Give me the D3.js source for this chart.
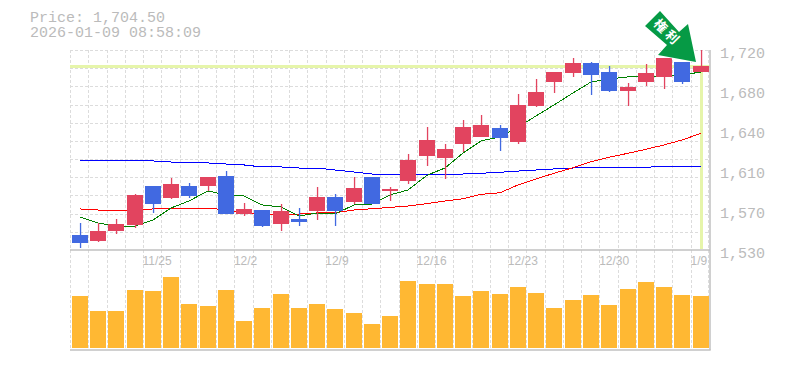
<!DOCTYPE html>
<html>
<head>
<meta charset="utf-8">
<script src="https://d3js.org/d3.v7.min.js"></script>
<style>
  html, body { margin: 0; padding: 0; background: #fff; overflow: hidden; }
  .header { font: 15px "Liberation Mono", monospace; fill: #bbb; }
  .price-axis text { font: 15px "Liberation Mono", monospace; fill: #bbb; }
  .date-axis text { font: 12px "Liberation Sans", sans-serif; fill: #bbb; }
  .arrow-label { font: bold 13px "Noto Sans CJK JP", sans-serif; fill: #fff; }
</style>
</head>
<body>
<div id="chart"></div>
<script>
// Daily candles, 11/18 through 1/9
const dates = ['11/18','11/19','11/20','11/21','11/25','11/26','11/27','11/28','12/1','12/2','12/3','12/4','12/5','12/8','12/9','12/10','12/11','12/12','12/15','12/16','12/17','12/18','12/19','12/22','12/23','12/24','12/25','12/26','12/29','12/30','1/5','1/6','1/7','1/8','1/9'];
const opens = [1544.3,1538.6,1548.1,1553.8,1590.8,1579.4,1590.8,1590.8,1600.3,1564.2,1568,1554.7,1559.5,1567.1,1580.4,1575.6,1599.4,1586.1,1595.6,1619.3,1617.4,1630.7,1637.4,1645.9,1632.6,1666.8,1689.6,1698.2,1707.7,1699.1,1681.1,1689.6,1694.4,1708.6,1699.1];
const highs = [1555.7,1555.7,1559.5,1583.2,1590.8,1598.4,1593.7,1599.4,1605.1,1574.6,1568,1573.7,1569.9,1589.9,1583.2,1599.4,1599.4,1589.9,1621.2,1646.9,1630.7,1653.5,1658.3,1648.8,1678.2,1692.5,1699.1,1712.4,1708.6,1704.8,1688.7,1706.7,1712.4,1708.6,1720];
const lows = [1531.9,1537.6,1545.2,1550.9,1565.2,1578.5,1579.4,1586.1,1564.2,1562.3,1551.9,1548.1,1552.8,1558.5,1552.8,1573.7,1573.7,1576.6,1592.7,1609.8,1597.5,1623.1,1637.4,1624.1,1630.7,1665.9,1679.2,1694.4,1677.3,1680.1,1666.8,1685.8,1683,1687.7,1699.1];
const closes = [1536.7,1548.1,1554.7,1582.3,1573.7,1592.7,1581.3,1599.4,1564.2,1569,1552.8,1567.1,1556.6,1580.4,1567.1,1588.9,1573.7,1588,1615.5,1634.5,1626,1646.9,1648.8,1636.4,1667.8,1680.1,1699.1,1707.7,1696.3,1681.1,1684.9,1698.2,1712.4,1689.6,1704.5];
const volumes = [52,37,37,58,57,71,44,42,58,27,40,54,40,44,39,35,24,32,67,64,64,52,57,54,61,55,40,48,53,43,59,66,61,53,52];

// Moving averages
const maShort = [1561.4,1555.7,1552.8,1552.8,1558.5,1569.9,1576.6,1586.1,1582.3,1581.3,1572.8,1570.9,1562.3,1565.2,1564.2,1572.8,1573.7,1582.3,1587,1601,1607.9,1622.2,1633.6,1637.4,1646.9,1657.3,1667.8,1679.2,1689.6,1692.5,1694.4,1694.4,1695.3,1696.3,1699.1];
const maMid = [1569,1568,1567.1,1567.1,1569,1569.9,1569.9,1569.9,1568,1565.2,1564.2,1563.3,1564.2,1565.2,1565.5,1568,1569.2,1570.5,1571.8,1574,1576.6,1578.7,1582.9,1584.4,1591.8,1597.5,1602.9,1608.2,1613.9,1618.1,1621.9,1625.7,1629.8,1634.5,1640.9];
const maLong = [1615.5,1615.5,1614.6,1614.6,1614.6,1613.6,1612.7,1612.7,1611.7,1610.8,1608.9,1608.9,1607.9,1607.9,1606,1604.1,1602.2,1602.2,1602.2,1602.2,1602.2,1602.2,1602.9,1603.8,1605,1606,1607,1607.9,1608.6,1608.6,1608.6,1608.6,1609.5,1609.5,1609.5];

const dateTicks = ['11/25','12/2','12/9','12/16','12/23','12/30','1/9'];
const priceTicks = [1720,1682,1644,1606,1568,1530];
const currentPrice = 1704.5;
const headerLines = ['Price: 1,704.50','2026-01-09 08:58:09'];

const width = 785;
const height = 370;

const svg = d3.select('#chart').append('svg')
  .attr('width', width)
  .attr('height', height)
  .style('display', 'block');

const xScale = d3.scaleBand().domain(dates).range([70, 709]);
const yScale = d3.scaleLinear().domain([1530, 1720]).range([250, 50]);
const volScale = d3.scaleLinear().domain([0, 98]).range([348, 250]);

// left edge of a 16px body, snapped to whole pixels
const barLeft = d => Math.round(xScale(d) + 1.8);
const barMid = d => barLeft(d) + 8;

// Grid
const grid = svg.append('g')
  .attr('stroke', '#dcdcdc')
  .attr('stroke-dasharray', '3,2');
d3.range(1, 11).concat([0]).forEach(k => {
  const y = Math.round(50 + k * 200 / 11) + 0.5;
  grid.append('line').attr('x1', 70).attr('x2', 710).attr('y1', y).attr('y2', y);
});
dates.concat(['end']).forEach((d, i) => {
  const x = Math.round(i < dates.length ? xScale(d) : xScale.range()[1] - 1) + 0.5;
  grid.append('line').attr('x1', x).attr('x2', x).attr('y1', 50).attr('y2', 350);
});

// Current price cross
const crossColor = '#e6f5aa';
svg.append('rect')
  .attr('x', 70).attr('width', 640)
  .attr('y', Math.round(yScale(currentPrice)) - 1).attr('height', 3)
  .attr('fill', crossColor);
svg.append('rect')
  .attr('x', barMid('1/9') - 1).attr('width', 3)
  .attr('y', yScale(currentPrice)).attr('height', yScale(1530) - yScale(currentPrice) - 1)
  .attr('fill', crossColor);

// Frame
const frame = svg.append('g').attr('stroke', '#c0c0c0').attr('stroke-width', 1.5);
frame.append('line').attr('x1', 70).attr('x2', 710).attr('y1', 250).attr('y2', 250);
frame.append('line').attr('x1', 70).attr('x2', 710.7).attr('y1', 350).attr('y2', 350);
frame.append('line').attr('x1', 710).attr('x2', 710).attr('y1', 50).attr('y2', 350);

// Moving averages
const maLine = d3.line()
  .x((v, i) => barMid(dates[i]))
  .y(v => yScale(v));
[[maLong, '#0000ff'], [maMid, '#ff0000'], [maShort, '#008000']].forEach(([values, color]) => {
  svg.append('path')
    .attr('d', maLine(values))
    .attr('fill', 'none')
    .attr('stroke', color)
    .attr('stroke-width', 1)
    .attr('shape-rendering', 'crispEdges');
});

// Candles
const upColor = '#e2445f';
const downColor = '#4169e1';
dates.forEach((d, i) => {
  const color = closes[i] >= opens[i] ? upColor : downColor;
  const top = Math.round(yScale(Math.max(opens[i], closes[i])));
  const bottom = Math.round(yScale(Math.min(opens[i], closes[i])));
  svg.append('rect')
    .attr('x', barMid(d) - 0.1)
    .attr('width', 1.3)
    .attr('y', Math.round(yScale(highs[i])))
    .attr('height', Math.round(yScale(lows[i])) - Math.round(yScale(highs[i])))
    .attr('fill', color);
  svg.append('rect')
    .attr('x', barLeft(d))
    .attr('width', 16)
    .attr('y', top)
    .attr('height', Math.max(1, bottom - top))
    .attr('fill', color);
});

// Volume
svg.append('g').selectAll('rect')
  .data(volumes)
  .join('rect')
  .attr('x', (v, i) => barLeft(dates[i]))
  .attr('width', 16)
  .attr('y', v => volScale(v))
  .attr('height', v => volScale(0) - volScale(v))
  .attr('fill', '#ffb833');

// Axes
const priceAxis = d3.axisRight(yScale)
  .tickValues(priceTicks)
  .tickSize(0)
  .tickFormat(v => d3.format(',')(Math.round(v / 10) * 10));
const priceG = svg.append('g')
  .attr('class', 'price-axis')
  .attr('transform', 'translate(720, 0)')
  .call(priceAxis);
priceG.select('.domain').remove();
priceG.selectAll('text').attr('x', 0).attr('dy', '0.5em');

const dateAxis = d3.axisBottom(d3.scalePoint().domain(dates).range([barMid(dates[0]), barMid(dates[dates.length - 1])]))
  .tickValues(dateTicks)
  .tickSize(0);
const dateG = svg.append('g')
  .attr('class', 'date-axis')
  .attr('transform', 'translate(0, 250)')
  .call(dateAxis);
dateG.select('.domain').remove();
dateG.selectAll('text').attr('text-anchor', 'start').attr('x', -11).attr('y', 6).attr('dy', '0.71em');

// Header
svg.append('g').selectAll('text')
  .data(headerLines)
  .join('text')
  .attr('class', 'header')
  .attr('x', 30)
  .attr('y', (t, i) => 22 + i * 15.3)
  .text(t => t);

// Arrow badge pointing at the last candles
const arrow = svg.append('g');
arrow.append('path')
  .attr('d', 'M660,11 L645,26 L667,45 L658,55 L696,62 L688,24 L679,32 Z')
  .attr('fill', '#069a45')
  .attr('stroke', '#fff')
  .attr('stroke-width', 1.5)
  .attr('paint-order', 'stroke');
arrow.append('text')
  .attr('class', 'arrow-label')
  .attr('transform', 'translate(667.5, 32.5) rotate(45)')
  .attr('text-anchor', 'middle')
  .attr('dy', '0.36em')
  .attr('letter-spacing', 3)
  .text('権利');
</script>
</body>
</html>
